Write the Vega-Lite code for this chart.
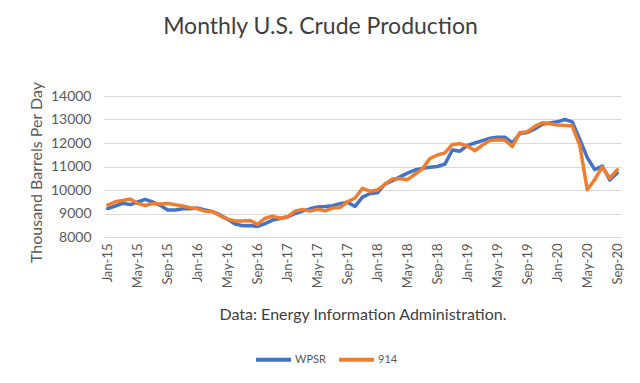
{
  "$schema": "https://vega.github.io/schema/vega-lite/v6.json",
  "width": 517,
  "height": 141,
  "autosize": {"type": "none"},
  "padding": {"left": 104, "top": 96, "right": 19, "bottom": 146},
  "background": "white",
  "title": {"text": "Monthly U.S. Crude Production", "fontSize": 23, "font": "Lato", "fontWeight": "normal", "color": "#404040", "anchor": "middle", "frame": "group", "dx": -42, "offset": 42},
  "data": {"values": [
    {"month":"Jan-15","series":"WPSR","value":9210},{"month":"Feb-15","series":"WPSR","value":9320},{"month":"Mar-15","series":"WPSR","value":9430},{"month":"Apr-15","series":"WPSR","value":9380},{"month":"May-15","series":"WPSR","value":9490},{"month":"Jun-15","series":"WPSR","value":9600},{"month":"Jul-15","series":"WPSR","value":9490},{"month":"Aug-15","series":"WPSR","value":9350},{"month":"Sep-15","series":"WPSR","value":9150},{"month":"Oct-15","series":"WPSR","value":9150},{"month":"Nov-15","series":"WPSR","value":9200},{"month":"Dec-15","series":"WPSR","value":9200},
    {"month":"Jan-16","series":"WPSR","value":9230},{"month":"Feb-16","series":"WPSR","value":9150},{"month":"Mar-16","series":"WPSR","value":9080},{"month":"Apr-16","series":"WPSR","value":8940},{"month":"May-16","series":"WPSR","value":8750},{"month":"Jun-16","series":"WPSR","value":8550},{"month":"Jul-16","series":"WPSR","value":8480},{"month":"Aug-16","series":"WPSR","value":8490},{"month":"Sep-16","series":"WPSR","value":8450},{"month":"Oct-16","series":"WPSR","value":8570},{"month":"Nov-16","series":"WPSR","value":8720},{"month":"Dec-16","series":"WPSR","value":8790},
    {"month":"Jan-17","series":"WPSR","value":8850},{"month":"Feb-17","series":"WPSR","value":9000},{"month":"Mar-17","series":"WPSR","value":9100},{"month":"Apr-17","series":"WPSR","value":9200},{"month":"May-17","series":"WPSR","value":9280},{"month":"Jun-17","series":"WPSR","value":9300},{"month":"Jul-17","series":"WPSR","value":9330},{"month":"Aug-17","series":"WPSR","value":9420},{"month":"Sep-17","series":"WPSR","value":9480},{"month":"Oct-17","series":"WPSR","value":9300},{"month":"Nov-17","series":"WPSR","value":9700},{"month":"Dec-17","series":"WPSR","value":9850},
    {"month":"Jan-18","series":"WPSR","value":9880},{"month":"Feb-18","series":"WPSR","value":10250},{"month":"Mar-18","series":"WPSR","value":10400},{"month":"Apr-18","series":"WPSR","value":10560},{"month":"May-18","series":"WPSR","value":10720},{"month":"Jun-18","series":"WPSR","value":10850},{"month":"Jul-18","series":"WPSR","value":10920},{"month":"Aug-18","series":"WPSR","value":10970},{"month":"Sep-18","series":"WPSR","value":11000},{"month":"Oct-18","series":"WPSR","value":11100},{"month":"Nov-18","series":"WPSR","value":11700},{"month":"Dec-18","series":"WPSR","value":11650},
    {"month":"Jan-19","series":"WPSR","value":11900},{"month":"Feb-19","series":"WPSR","value":12000},{"month":"Mar-19","series":"WPSR","value":12100},{"month":"Apr-19","series":"WPSR","value":12200},{"month":"May-19","series":"WPSR","value":12250},{"month":"Jun-19","series":"WPSR","value":12250},{"month":"Jul-19","series":"WPSR","value":12000},{"month":"Aug-19","series":"WPSR","value":12400},{"month":"Sep-19","series":"WPSR","value":12450},{"month":"Oct-19","series":"WPSR","value":12600},{"month":"Nov-19","series":"WPSR","value":12800},{"month":"Dec-19","series":"WPSR","value":12850},
    {"month":"Jan-20","series":"WPSR","value":12900},{"month":"Feb-20","series":"WPSR","value":13000},{"month":"Mar-20","series":"WPSR","value":12900},{"month":"Apr-20","series":"WPSR","value":12150},{"month":"May-20","series":"WPSR","value":11380},{"month":"Jun-20","series":"WPSR","value":10870},{"month":"Jul-20","series":"WPSR","value":11020},{"month":"Aug-20","series":"WPSR","value":10430},{"month":"Sep-20","series":"WPSR","value":10720},
    {"month":"Jan-15","series":"914","value":9360},{"month":"Feb-15","series":"914","value":9500},{"month":"Mar-15","series":"914","value":9550},{"month":"Apr-15","series":"914","value":9620},{"month":"May-15","series":"914","value":9430},{"month":"Jun-15","series":"914","value":9340},{"month":"Jul-15","series":"914","value":9420},{"month":"Aug-15","series":"914","value":9400},{"month":"Sep-15","series":"914","value":9430},{"month":"Oct-15","series":"914","value":9370},{"month":"Nov-15","series":"914","value":9320},{"month":"Dec-15","series":"914","value":9250},
    {"month":"Jan-16","series":"914","value":9200},{"month":"Feb-16","series":"914","value":9100},{"month":"Mar-16","series":"914","value":9090},{"month":"Apr-16","series":"914","value":8900},{"month":"May-16","series":"914","value":8760},{"month":"Jun-16","series":"914","value":8680},{"month":"Jul-16","series":"914","value":8680},{"month":"Aug-16","series":"914","value":8700},{"month":"Sep-16","series":"914","value":8540},{"month":"Oct-16","series":"914","value":8800},{"month":"Nov-16","series":"914","value":8880},{"month":"Dec-16","series":"914","value":8800},
    {"month":"Jan-17","series":"914","value":8860},{"month":"Feb-17","series":"914","value":9100},{"month":"Mar-17","series":"914","value":9170},{"month":"Apr-17","series":"914","value":9100},{"month":"May-17","series":"914","value":9180},{"month":"Jun-17","series":"914","value":9110},{"month":"Jul-17","series":"914","value":9230},{"month":"Aug-17","series":"914","value":9250},{"month":"Sep-17","series":"914","value":9500},{"month":"Oct-17","series":"914","value":9660},{"month":"Nov-17","series":"914","value":10070},{"month":"Dec-17","series":"914","value":9950},
    {"month":"Jan-18","series":"914","value":10000},{"month":"Feb-18","series":"914","value":10240},{"month":"Mar-18","series":"914","value":10470},{"month":"Apr-18","series":"914","value":10490},{"month":"May-18","series":"914","value":10440},{"month":"Jun-18","series":"914","value":10670},{"month":"Jul-18","series":"914","value":10900},{"month":"Aug-18","series":"914","value":11340},{"month":"Sep-18","series":"914","value":11490},{"month":"Oct-18","series":"914","value":11580},{"month":"Nov-18","series":"914","value":11940},{"month":"Dec-18","series":"914","value":11970},
    {"month":"Jan-19","series":"914","value":11870},{"month":"Feb-19","series":"914","value":11670},{"month":"Mar-19","series":"914","value":11910},{"month":"Apr-19","series":"914","value":12110},{"month":"May-19","series":"914","value":12140},{"month":"Jun-19","series":"914","value":12120},{"month":"Jul-19","series":"914","value":11850},{"month":"Aug-19","series":"914","value":12440},{"month":"Sep-19","series":"914","value":12480},{"month":"Oct-19","series":"914","value":12710},{"month":"Nov-19","series":"914","value":12860},{"month":"Dec-19","series":"914","value":12820},
    {"month":"Jan-20","series":"914","value":12770},{"month":"Feb-20","series":"914","value":12750},{"month":"Mar-20","series":"914","value":12720},{"month":"Apr-20","series":"914","value":11900},{"month":"May-20","series":"914","value":10010},{"month":"Jun-20","series":"914","value":10440},{"month":"Jul-20","series":"914","value":10980},{"month":"Aug-20","series":"914","value":10500},{"month":"Sep-20","series":"914","value":10860}
  ]},
  "mark": {"type": "line", "strokeWidth": 3.5, "strokeCap": "round", "strokeJoin": "round"},
  "encoding": {
    "x": {
      "field": "month", "type": "ordinal", "sort": null,
      "scale": {"padding": 0.5},
      "axis": {
        "values": ["Jan-15","May-15","Sep-15","Jan-16","May-16","Sep-16","Jan-17","May-17","Sep-17","Jan-18","May-18","Sep-18","Jan-19","May-19","Sep-19","Jan-20","May-20","Sep-20"],
        "labelAngle": -90, "labelAlign": "right", "labelBaseline": "middle", "ticks": false, "grid": false,
        "domainColor": "#d9d9d9", "labelFont": "Lato", "labelFontSize": 13, "labelColor": "#595959", "labelPadding": 6,
        "title": "Data: Energy Information Administration.", "titleFont": "Lato", "titleFontSize": 16, "titleFontWeight": "normal", "titleColor": "#404040", "titlePadding": 19
      }
    },
    "y": {
      "field": "value", "type": "quantitative",
      "scale": {"domain": [8000, 14000]},
      "axis": {
        "values": [8000, 9000, 10000, 11000, 12000, 13000, 14000], "format": "d",
        "grid": true, "gridColor": "#d9d9d9", "domain": false, "ticks": false,
        "labelFont": "Lato", "labelFontSize": 14, "labelColor": "#595959", "labelPadding": 13,
        "title": "Thousand Barrels Per Day", "titleFont": "Lato", "titleFontSize": 16, "titleFontWeight": "normal", "titleColor": "#595959", "titlePadding": 6, "titleY": 76, "titleAlign": "center"
      }
    },
    "color": {
      "field": "series", "type": "nominal",
      "scale": {"domain": ["WPSR", "914"], "range": ["#4472C4", "#ED7D31"]},
      "legend": {
        "orient": "none", "legendX": 150, "legendY": 244, "direction": "horizontal", "title": null,
        "symbolType": "stroke", "symbolSize": 1225, "symbolStrokeWidth": 4,
        "labelFont": "Lato", "labelFontSize": 11, "labelColor": "#595959", "labelOffset": 2, "columnPadding": 5
      }
    }
  },
  "config": {"view": {"stroke": null}}
}
